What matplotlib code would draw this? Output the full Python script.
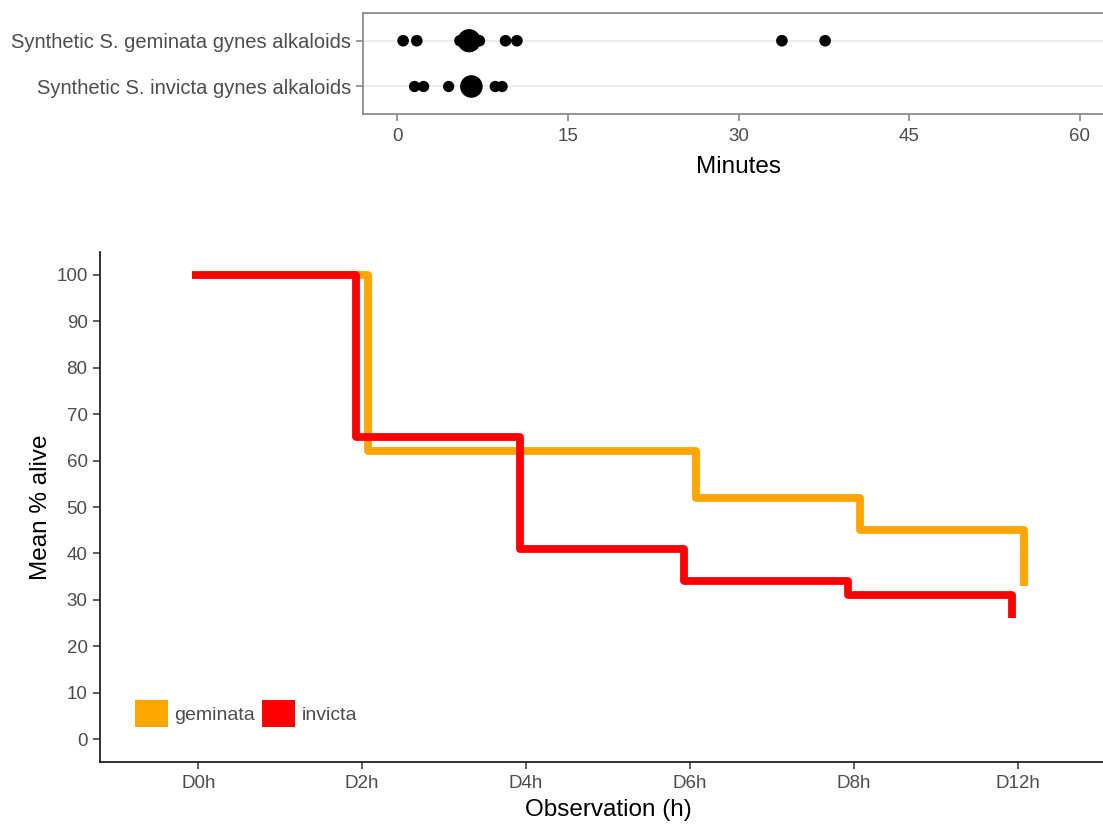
#! /usr/bin/env python
# -*- coding: utf-8 -*-

# Two panels: alkaloid timings (dot plot, top) and mean % alive over time (step lines, bottom).

import numpy as np
import matplotlib
matplotlib.use("Agg")
from matplotlib import pyplot as plt
from matplotlib.patches import Patch

# Top panel data (minutes, count of overlapping observations)
alkaloidRows = ["Synthetic S. invicta gynes alkaloids", "Synthetic S. geminata gynes alkaloids"]
geminataMinutes = [0.5, 1.7, 5.5, 6.3, 7.2, 9.5, 10.5, 33.8, 37.6]
geminataCounts = [1, 1, 1, 4, 1, 1, 1, 1, 1]
invictaMinutes = [1.5, 2.3, 4.5, 6.5, 8.6, 9.2]
invictaCounts = [1, 1, 1, 4, 1, 1]
minuteTicks = [0, 15, 30, 45, 60]

# Bottom panel data
observations = ["D0h", "D2h", "D4h", "D6h", "D8h", "D12h"]
geminataAlive = [100, 62, 62, 52, 45, 33]
invictaAlive = [100, 65, 41, 34, 31, 26]
aliveTicks = list(range(0, 101, 10))

plt.rcParams['font.family'] = ['Liberation Sans', 'DejaVu Sans']
tickGrey = '#4D4D4D'

fig = plt.figure(figsize=(11.03, 8.24), dpi=100)

# ---- Top panel ----
axTop = fig.add_axes([0.3294, 0.8617, 1.010 - 0.3294, 0.9839 - 0.8617])
for i in range(len(alkaloidRows)):
    axTop.axhline(i, color='#EBEBEB', lw=1.2, zorder=0)
axTop.scatter(invictaMinutes, [0] * len(invictaMinutes),
              s=[66 * c for c in invictaCounts], color='black', lw=0, zorder=3)
axTop.scatter(geminataMinutes, [1] * len(geminataMinutes),
              s=[70 * c for c in geminataCounts], color='black', lw=0, zorder=3)
axTop.set_xlim(-3, 63)
axTop.set_ylim(-0.6, 1.6)
axTop.set_xticks(minuteTicks)
axTop.set_yticks(range(len(alkaloidRows)))
axTop.set_yticklabels(alkaloidRows)
axTop.tick_params(axis='x', colors='#7F7F7F', labelcolor=tickGrey,
                  labelsize=13.5, length=5, width=1.1, pad=5)
axTop.tick_params(axis='y', colors='#7F7F7F', labelcolor=tickGrey,
                  labelsize=14.5, length=5, width=1.1, pad=4)
for sp in axTop.spines.values():
    sp.set_color('#8C8C8C')
    sp.set_linewidth(1.3)
axTop.set_xlabel('Minutes', fontsize=17.5, labelpad=8)

# ---- Bottom panel ----
axBot = fig.add_axes([0.0907, 0.0749, 1.0118 - 0.0907, 0.6945 - 0.0749])
ind = np.arange(len(observations))
dodge = 0.037
axBot.step(ind + dodge, geminataAlive, where='post', color='#FFA500', lw=5.6,
           solid_capstyle='butt', solid_joinstyle='round', zorder=2)
axBot.step(ind - dodge, invictaAlive, where='post', color='#FF0000', lw=5.6,
           solid_capstyle='butt', solid_joinstyle='round', zorder=3)
axBot.set_xlim(-0.6, len(observations) - 0.4)
axBot.set_ylim(-5, 105)
axBot.set_xticks(ind)
axBot.set_xticklabels(observations)
axBot.set_yticks(aliveTicks)
axBot.tick_params(axis='both', colors='#333333', labelcolor=tickGrey,
                  labelsize=13.5, length=5, width=1.1, pad=4)
axBot.spines['top'].set_visible(False)
axBot.spines['right'].set_visible(False)
for side in ['left', 'bottom']:
    axBot.spines[side].set_color('#222222')
    axBot.spines[side].set_linewidth(1.3)
axBot.set_xlabel('Observation (h)', fontsize=17.5, labelpad=5)
axBot.set_ylabel('Mean % alive', fontsize=17.5, labelpad=3)

handles = [Patch(facecolor='#FFA500', lw=0), Patch(facecolor='#FF0000', lw=0)]
axBot.legend(handles, ['geminata', 'invicta'], loc='lower left',
             bbox_to_anchor=(0.034, 0.07), ncol=2, frameon=False,
             handlelength=1.7, handleheight=1.7, handletextpad=0.35,
             columnspacing=0.35, borderpad=0, borderaxespad=0,
             fontsize=14, labelcolor=tickGrey)

plt.savefig("out.png", dpi=100)
plt.clf()
